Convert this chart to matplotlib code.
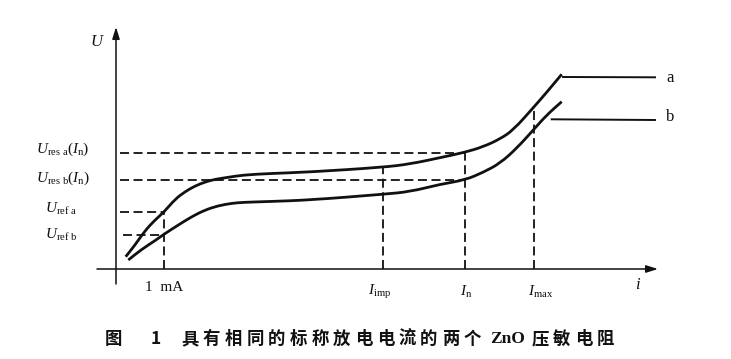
"""ZnO varistor U-i characteristic sketch (two varistors, same nominal discharge current)"""
import numpy as np
import matplotlib.pyplot as plt
from matplotlib.path import Path
from matplotlib.patches import PathPatch

plt.rcParams['font.family'] = ['Liberation Serif', 'DejaVu Serif']
plt.rcParams['mathtext.fontset'] = 'custom'
plt.rcParams['mathtext.rm'] = 'Liberation Serif'
plt.rcParams['mathtext.it'] = 'Liberation Serif:italic'

# curve a / curve b (i, U) in chart units from the origin
curve_a_i = [9.7, 19, 29, 39, 48.3, 59, 69, 79, 89, 99, 112.3, 127.3, 154, 194,
             266.7, 294, 324, 349, 367.3, 384, 397.3, 417.3, 430.7, 445.7]
curve_a_u = [12.3, 24, 38.3, 49, 57.3, 69.7, 77.3, 83, 87, 89.7, 91.7, 94, 95.5, 97,
             101.7, 105, 111.3, 116.7, 122.3, 130, 139, 161.3, 176.7, 194.7]
curve_b_i = [12.3, 25.7, 39, 48.3, 62.3, 75.7, 89, 102.3, 115.7, 127.3, 154, 194,
             266.7, 294, 324, 349, 367.3, 384, 400.7, 417.3, 430.7, 445.7]
curve_b_u = [9, 19.7, 28.3, 35, 44, 52.3, 59, 63.3, 65.7, 66.7, 67.5, 69,
             74.7, 77.3, 84.7, 89, 96.7, 105.7, 120.7, 139, 154, 167.3]

# labelled levels and currents
u_levels = {'res_a': 116.5, 'res_b': 89.5, 'ref_a': 57.3, 'ref_b': 34.5}
i_points = {'1mA': 48.3, 'imp': 266.7, 'n': 348.5, 'max': 418}
tail_a = ([447, 539], [192, 191.7])
tail_b = ([435.7, 539], [149.7, 149])

caption_cjk_1 = '具有相同的标称放电电流的两个'
caption_cjk_2 = '压敏电阻'

ink = '#111111'


def smooth_path(xs, ys):
    # quadratic bezier through midpoints, control points are the read points
    pts = np.column_stack([xs, ys])
    verts = [pts[0], (pts[0] + pts[1]) / 2]
    codes = [Path.MOVETO, Path.LINETO]
    for k in range(1, len(pts) - 1):
        verts += [pts[k], (pts[k] + pts[k + 1]) / 2]
        codes += [Path.CURVE3, Path.CURVE3]
    verts.append(pts[-1])
    codes.append(Path.LINETO)
    return Path(verts, codes)


fig = plt.figure(figsize=(7.31, 3.59), dpi=100)
ax = fig.add_axes([0, 0, 1, 1])
ax.set_xlim(-116, 615)
ax.set_ylim(-90, 269)
ax.axis('off')

# axes with arrows
arrow = dict(arrowstyle='-|>,head_length=0.7,head_width=0.22', color=ink, lw=1.1,
             shrinkA=0, shrinkB=0)
ax.annotate('', xy=(0, 242), xytext=(0, -15), arrowprops=arrow)
ax.annotate('', xy=(542, 0), xytext=(-19, 0), arrowprops=arrow)

# curves
for xs, ys in [(curve_a_i, curve_a_u), (curve_b_i, curve_b_u)]:
    ax.add_patch(PathPatch(smooth_path(xs, ys), fill=False, edgecolor=ink, lw=2,
                           capstyle='butt'))
ax.plot(*tail_a, color=ink, lw=1.4)
ax.plot(*tail_b, color=ink, lw=1.4)

# dashed guides
dash = dict(color=ink, lw=1.3, ls=(0, (5, 2.5)))
ax.plot([4, i_points['n']], [u_levels['res_a']] * 2, **dash)
ax.plot([4, i_points['n']], [u_levels['res_b']] * 2, **dash)
ax.plot([4, i_points['1mA']], [u_levels['ref_a']] * 2, **dash)
ax.plot([7, i_points['1mA']], [u_levels['ref_b']] * 2, **dash)
ax.plot([i_points['1mA']] * 2, [0, u_levels['ref_a']], **dash)
ax.plot([i_points['imp']] * 2, [0, 101.7], **dash)
ax.plot([i_points['n']] * 2, [0, u_levels['res_a']], **dash)
ax.plot([i_points['max']] * 2, [0, 162.5], **dash)

# labels
fs = 11
ax.text(-19, 227, '$U$', fontsize=fs + 1, ha='center', va='center', color=ink)
ax.text(522, -16, '$i$', fontsize=fs + 1, ha='center', va='center', color=ink)
ax.text(-53, 120, r'$U_{\mathrm{res\ a}}(I_{\mathrm{n}})$', fontsize=fs, ha='center', va='center', color=ink)
ax.text(-53, 91, r'$U_{\mathrm{res\ b}}(I_{\mathrm{n}})$', fontsize=fs, ha='center', va='center', color=ink)
ax.text(-55, 60, r'$U_{\mathrm{ref\ a}}$', fontsize=fs, ha='center', va='center', color=ink)
ax.text(-55, 34, r'$U_{\mathrm{ref\ b}}$', fontsize=fs, ha='center', va='center', color=ink)
ax.text(i_points['1mA'], -18.5, '1  mA', fontsize=fs, ha='center', va='center', color=ink)
ax.text(i_points['imp'] - 3, -23, r'$I_{\mathrm{imp}}$', fontsize=fs, ha='center', va='center', color=ink)
ax.text(i_points['n'] + 2, -23, r'$I_{\mathrm{n}}$', fontsize=fs, ha='center', va='center', color=ink)
ax.text(i_points['max'] + 7, -23, r'$I_{\mathrm{max}}$', fontsize=fs, ha='center', va='center', color=ink)
ax.text(554.5, 190.5, 'a', fontsize=fs + 1, ha='center', va='center', color=ink)
ax.text(554, 152, 'b', fontsize=fs + 1, ha='center', va='center', color=ink)

# caption, letter-spaced like the original
cjk = ['Noto Sans CJK SC', 'DejaVu Sans']
cap = dict(fontsize=12.5, family=cjk, weight='bold', ha='center', va='center', color=ink)
cap_y = -70
pitch = 21.7
ax.text(-2.5, cap_y, '图', **cap)
ax.text(40, cap_y, '1', **cap)
for k, ch in enumerate(caption_cjk_1):
    ax.text(74 + k * pitch, cap_y, ch, **cap)
ax.text(374, cap_y, 'ZnO', fontsize=12.5, family='Liberation Serif', weight='bold',
        va='center', color=ink)
for k, ch in enumerate(caption_cjk_2):
    ax.text(424 + k * pitch, cap_y, ch, **cap)

fig.savefig('out.png', dpi=100, facecolor='white')
